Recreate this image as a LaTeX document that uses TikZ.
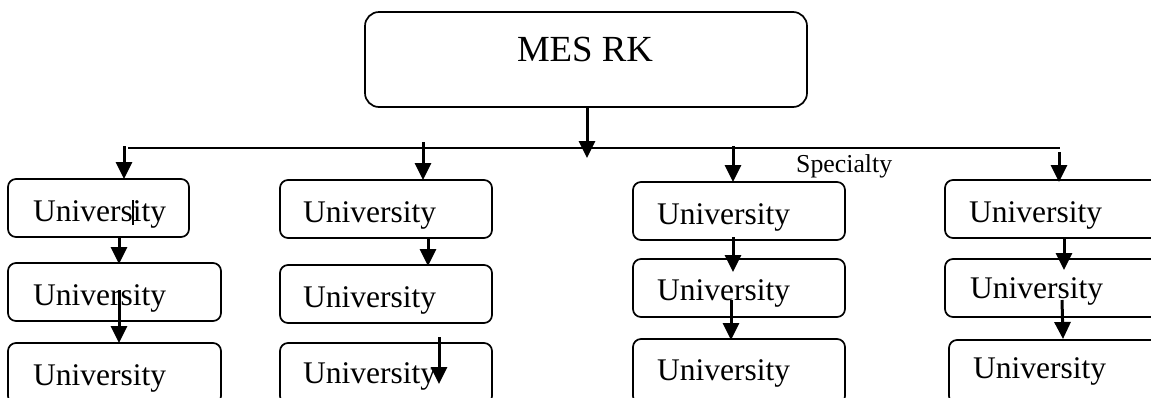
\documentclass[tikz,border=0pt]{standalone}
\usepackage{fontspec}
\setmainfont{Liberation Serif}
\usetikzlibrary{arrows.meta}
\tikzset{
  box/.style={draw, line width=1.7pt, rounded corners=8pt, inner sep=0pt},
  uni/.style={anchor=base west, inner sep=0pt, font=\fontsize{31.5}{36}\selectfont},
  arr/.style={line width=3pt, -{Triangle[width=16pt,length=17pt]}},
  hline/.style={line width=1.6pt},
}
\newcommand{\ubox}[5]{% name, x1, x2, y1, y2
  \node[box, minimum width={(#3-#2)*1pt}, minimum height={(#5-#4)*1pt}] (#1) at ({(#2+#3)/2},{(#4+#5)/2}) {};}
\begin{document}
\begin{tikzpicture}[x=1pt,y=-1pt]
\useasboundingbox (0,0) rectangle (1151,397);
\clip (0,0) rectangle (1151,397);
% top box
\node[box, rounded corners=14pt, minimum width=442pt, minimum height=95pt] (mes) at (586,59.5) {};
\node[anchor=base, inner sep=0pt, font=\fontsize{36.8}{40}\selectfont] (mest) at (585,61) {MES RK};
% horizontal bus
\coordinate (hl) at (128,148);
\coordinate (hr) at (1060,148);
\draw[hline] (hl) -- (hr);
\node[anchor=base west, inner sep=0pt, font=\fontsize{25.8}{28}\selectfont] (spec) at (796,172) {Specialty};
% boxes
\ubox{b11}{8}{189}{179}{237}
\ubox{b12}{8}{221}{263}{321}
\ubox{b13}{8}{221}{343}{404}
\ubox{b21}{280}{492}{180}{238}
\ubox{b22}{280}{492}{265}{323}
\ubox{b23}{280}{492}{343}{404}
\ubox{b31}{633}{845}{182}{240}
\ubox{b32}{633}{845}{259}{317}
\ubox{b33}{633}{845}{339}{404}
\ubox{b41}{945}{1160}{180}{238}
\ubox{b42}{945}{1160}{259}{317}
\ubox{b43}{949}{1164}{340}{404}
% texts
\node[uni] (t11) at (33,221) {University};
\node[uni] (t12) at (33,305) {University};
\node[uni] (t13) at (33,385) {University};
\node[uni] (t21) at (303,222) {University};
\node[uni] (t22) at (303,307) {University};
\node[uni] (t23) at (303,383) {University};
\node[uni] (t31) at (657,224) {University};
\node[uni] (t32) at (657,300) {University};
\node[uni] (t33) at (657,380) {University};
\node[uni] (t41) at (969,222) {University};
\node[uni] (t42) at (970,298) {University};
\node[uni] (t43) at (973,378) {University};
% main arrow
\coordinate (m0) at (587,107);
\coordinate (m1) at (587,158);
\draw[arr] (m0) -- (m1);
% column arrows from bus
\coordinate (c1a) at (124,146); \coordinate (c1b) at (124,179);
\coordinate (c2a) at (423,142); \coordinate (c2b) at (423,180);
\coordinate (c3a) at (733,146); \coordinate (c3b) at (733,182);
\coordinate (c4a) at (1059,152); \coordinate (c4b) at (1059,182);
\draw[arr] (c1a) -- (c1b);
\draw[arr] (c2a) -- (c2b);
\draw[arr] (c3a) -- (c3b);
\draw[arr] (c4a) -- (c4b);
% column 1
\coordinate (k1) at (133,200); \coordinate (k2) at (133,225);
\draw[line width=1.5pt] (k1) -- (k2);
\coordinate (p11) at (119,237); \coordinate (p12) at (119,264);
\coordinate (p13) at (119,290); \coordinate (p14) at (119,343);
\draw[arr] (p11) -- (p12);
\draw[arr] (p13) -- (p14);
% column 2
\coordinate (p21) at (428,238); \coordinate (p22) at (428,266);
\coordinate (p23) at (439,337); \coordinate (p24) at (439,384);
\draw[arr] (p21) -- (p22);
\draw[arr] (p23) -- (p24);
% column 3
\coordinate (p31) at (733,237); \coordinate (p32) at (733,272);
\coordinate (p33) at (731,300); \coordinate (p34) at (731,340);
\draw[arr] (p31) -- (p32);
\draw[arr] (p33) -- (p34);
% column 4
\coordinate (p41) at (1064,237); \coordinate (p42) at (1064,270);
\coordinate (p43) at (1062,300); \coordinate (p44) at (1063,339);
\draw[arr] (p41) -- (p42);
\draw[arr] (p43) -- (p44);
\end{tikzpicture}
\end{document}
